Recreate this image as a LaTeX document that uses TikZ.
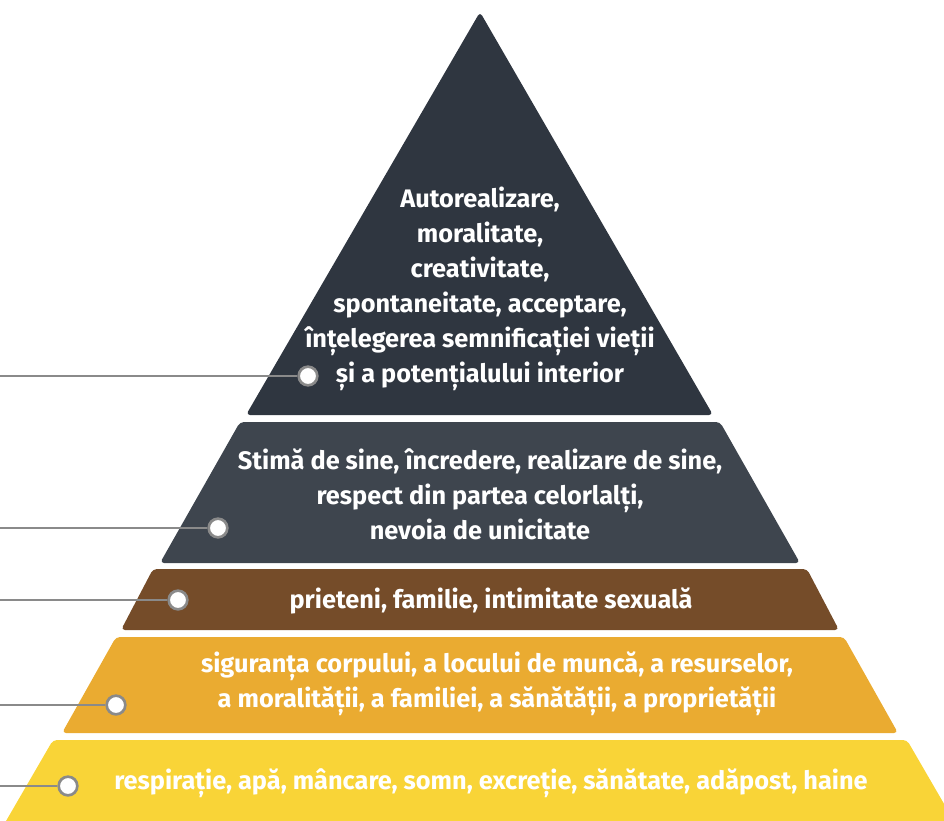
\documentclass[tikz,border=0pt]{standalone}
\usepackage{fontspec}
\setmainfont{Fira Sans}
\definecolor{levelA}{HTML}{2F3640}
\definecolor{levelB}{HTML}{3E454E}
\definecolor{levelC}{HTML}{754C29}
\definecolor{levelD}{HTML}{EAAB31}
\definecolor{levelE}{HTML}{F9D437}
\definecolor{guidegray}{HTML}{8A8A8A}
\tikzset{
  level/.style={rounded corners=3pt},
  label/.style={text=white,align=center,inner sep=0pt,
    font=\fontsize{19}{26.2}\selectfont\bfseries},
  marker/.style={circle,draw=guidegray,fill=white,line width=2pt,
    minimum size=14pt,inner sep=0pt},
  guide/.style={draw=guidegray,line width=1.1pt}
}
\begin{document}
\begin{tikzpicture}[x=0.75pt,y=-0.75pt]
\clip (0,0) rectangle (944,820);
% the five levels
\fill[levelA,level] (480,12) -- (713,415) -- (246,415) -- cycle;
\fill[levelB,level] (240,422) -- (720,422) -- (800,563) -- (160,563) -- cycle;
\fill[levelC,level] (153,569) -- (807,569) -- (839,630) -- (121,630) -- cycle;
\fill[levelD,level] (116,637) -- (844,637) -- (898,733) -- (62,733) -- cycle;
\fill[levelE,level] (53,740) -- (907,740) -- (965,840) -- (-5,840) -- cycle;
% texts
\node[label] (tA) at (480,289) {Autorealizare,\\moralitate,\\creativitate,\\spontaneitate, acceptare,\\înțelegerea semnificației vieții\\și a potențialului interior};
\node[label] (tB) at (480,494) {Stimă de sine, încredere, realizare de sine,\\respect din partea celorlalți,\\nevoia de unicitate};
\node[label] (tC) at (491,601) {prieteni, familie, intimitate sexuală};
\node[label] (tD) at (497,684) {siguranța corpului, a locului de muncă, a resurselor,\\a moralității, a familiei, a sănătății, a proprietății};
\node[label] (tE) at (491,783) {respirație, apă, mâncare, somn, excreție, sănătate, adăpost, haine};
% markers and guide lines
\node[marker] (mA) at (308,376) {};
\node[marker] (mB) at (218,528) {};
\node[marker] (mC) at (178,600) {};
\node[marker] (mD) at (116,705) {};
\node[marker] (mE) at (68,786) {};
\coordinate (gA) at (0,376);
\coordinate (gB) at (0,528);
\coordinate (gC) at (0,600);
\coordinate (gD) at (0,705);
\coordinate (gE) at (0,786);
\draw[guide] (gA) -- (mA);
\draw[guide] (gB) -- (mB);
\draw[guide] (gC) -- (mC);
\draw[guide] (gD) -- (mD);
\draw[guide] (gE) -- (mE);
\end{tikzpicture}
\end{document}
